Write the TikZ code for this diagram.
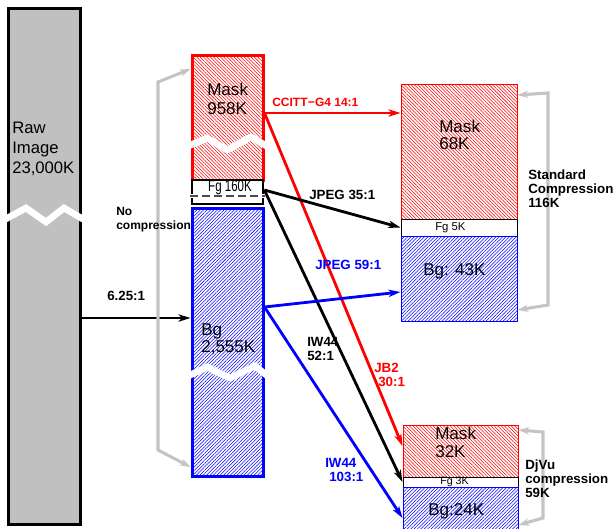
\documentclass[tikz,border=0pt]{standalone}
\usepackage{fontspec}
\setmainfont{Liberation Sans}
\usetikzlibrary{arrows.meta,patterns.meta,fit}
\definecolor{lgray}{RGB}{192,192,192}
\definecolor{bgray}{RGB}{196,196,196}
\newcommand\boxfont{\fontsize{12.8}{14}\selectfont}
\newcommand\lblfont{\fontsize{10}{10.5}\selectfont\bfseries}
\begin{document}
\begin{tikzpicture}[x=0.75pt,y=-0.75pt,
  rawbox/.style={draw=black,line width=2.25pt,fill=lgray,inner sep=0},
  maskfill/.style={pattern={Lines[angle=-45,distance=1.8pt,line width=0.4pt]},pattern color=red},
  bgfill/.style={pattern={Lines[angle=45,distance=1.8pt,line width=0.4pt]},pattern color=blue},
  bigmask/.style={maskfill,draw=red,line width=2.25pt,inner sep=0},
  bigbg/.style={bgfill,draw=blue,line width=2.25pt,inner sep=0},
  bigfg/.style={draw=black,line width=2pt,fill=white,inner sep=0},
  smallmask/.style={maskfill,draw=red,line width=0.75pt,inner sep=0},
  smallbg/.style={bgfill,draw=blue,line width=0.75pt,inner sep=0},
  smallfg/.style={draw=black,line width=0.75pt,fill=white,inner sep=0},
  brk/.style={white,line width=5pt,line join=miter},
  txt/.style={inner sep=0,anchor=north west,align=left,font=\boxfont},
  lbl/.style={inner sep=0,anchor=north west,align=left,font=\lblfont},
  arr/.style={line width=2.1pt,-{Stealth[length=9pt,width=5.5pt,inset=2.5pt]}},
  gbr/.style={bgray,line width=2.3pt,{Stealth[length=8pt,width=5.5pt,inset=2.5pt]}-{Stealth[length=8pt,width=5.5pt,inset=2.5pt]}}
]
\clip (0,0) rectangle (615,529);
% raw image
\node[rawbox,fit={(8,8) (80,524)}] (raw) {};
\draw[brk] (2,221) -- (26,208) -- (46,222) -- (64,208) -- (88,222);
\node[txt,font=\fontsize{12.5}{15}\selectfont] (rawt) at (12,122) {Raw\\Image\\23,000K};
% left stack
\node[bigmask,fit={(192,55) (263,180)}] (mask) {};
\draw[brk] (186,147) -- (207,138) -- (227,150) -- (251,137) -- (270,148);
\node[bigfg,fit={(192,180) (263,204)}] (fg) {};
\draw[white,line width=3pt] (188,196) -- (267,196);
\draw[black!70,line width=1.4pt,dash pattern=on 6pt off 3pt] (190,196) -- (265,196);
\node[bigbg,fit={(192,208) (263,476)}] (bg) {};
\draw[brk] (186,377) -- (207,367) -- (230,378) -- (255,366) -- (270,378);
\node[txt] (maskt) at (207,83) {Mask\\958K};
\node[inner sep=0,anchor=center,font=\fontsize{12}{13}\selectfont] (fgt) at (230,188) {\scalebox{0.72}[1]{Fg 160K}};
\node[txt,font=\fontsize{12.8}{12.8}\selectfont] (bgt) at (201,323) {Bg\\2,555K};
% standard stack
\node[smallmask,fit={(401,84) (517,219)}] (smask) {};
\node[smallfg,fit={(401,219) (517,236)}] (sfg) {};
\node[smallbg,fit={(401,236) (517,321)}] (sbg) {};
\node[txt,font=\fontsize{12.8}{12.8}\selectfont] (smaskt) at (439,120) {Mask\\68K};
\node[inner sep=0,anchor=west,font=\fontsize{8.5}{9}\selectfont] (sfgt) at (435,227.5) {Fg 5K};
\node[txt] (sbgt) at (423,263) {Bg: 43K};
% djvu stack
\node[smallmask,fit={(403,425) (518,477)}] (dmask) {};
\node[smallfg,fit={(403,477) (518,487)}] (dfg) {};
\node[smallbg,fit={(403,487) (518,535)}] (dbg) {};
\node[txt,font=\fontsize{12.8}{13.5}\selectfont] (dmaskt) at (435,427) {Mask\\32K};
\node[inner sep=0,anchor=west,font=\fontsize{8}{9}\selectfont] (dfgt) at (440,482) {Fg 3K};
\node[txt] (dbgt) at (428,503) {Bg:24K};
% arrows
\draw[arr] (raw.east |- 0,318) -- (bg.west |- 0,318);
\draw[arr,red] (mask.east |- 0,113) -- (smask.west |- 0,113);
\draw[arr,red] (mask.east |- 0,113) -- (dmask.west |- 0,446);
\draw[arr] (fg.east |- 0,190) -- (sfg.west);
\draw[arr] (fg.east |- 0,190) -- (dfg.west);
\draw[arr,blue] (bg.east |- 0,307) -- (sbg.west |- 0,292);
\draw[arr,blue] (bg.east |- 0,307) -- (dbg.west |- 0,518);
% gray brackets
\coordinate (l1) at (158,82);
\coordinate (l2) at (158,450);
\draw[gbr] (mask.west |- 0,69) -- (l1) -- (l2) -- (bg.west |- 0,467);
\coordinate (s1) at (548,93);
\coordinate (s2) at (548,305);
\draw[gbr] (smask.east |- 0,95) -- (s1) -- (s2) -- (sbg.east |- 0,310);
\coordinate (d1) at (543,432);
\coordinate (d2) at (543,518);
\draw[gbr] (dmask.east |- 0,430) -- (d1) -- (d2) -- (dbg.east |- 0,525);
% labels
\node[lbl,anchor=west] (l625) at (107,296) {6.25:1};
\node[lbl,font=\fontsize{9}{10.5}\selectfont\bfseries] (lnoc) at (116,207) {No\\compression};
\node[lbl,red,anchor=west,font=\fontsize{9}{10}\selectfont\bfseries] (lccitt) at (272,102) {CCITT\kern0.3pt−G4 14:1};
\node[lbl] (ljp35) at (309,190) {JPEG 35:1};
\node[lbl,blue] (ljp59) at (315,260) {JPEG 59:1};
\node[lbl] (liw52) at (307,337) {IW44\\52:1};
\node[lbl,red] (ljb2) at (374,363) {JB2\\\hspace{3pt}30:1};
\node[lbl,blue] (liw103) at (325,458) {IW44\\\hspace{3pt}103:1};
\node[lbl] (lstd) at (528,170) {Standard\\Compression\\116K};
\node[lbl] (ldjvu) at (525,460) {DjVu\\compression\\59K};
\end{tikzpicture}
\end{document}
